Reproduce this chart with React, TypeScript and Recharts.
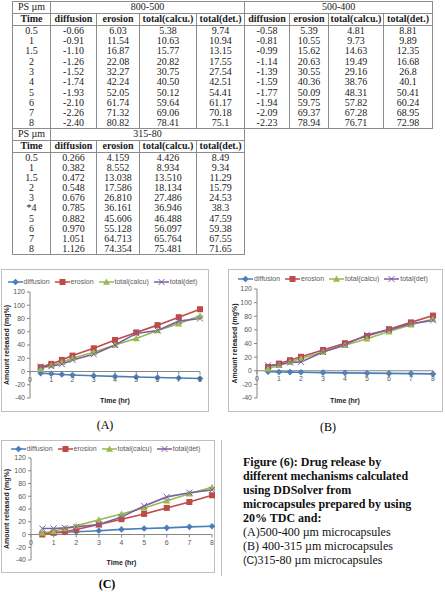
import React from "react";
import { LineChart, Line, XAxis, YAxis, ReferenceLine, Legend, Label } from "recharts";

// ---- table data ----
const headCols = ["Time", "diffusion", "erosion", "total(calcu.)", "total(det.)"];
const timeColA = ["0.5", "1", "1.5", "2", "3", "4", "5", "6", "7", "8"];
const timeColB = ["0.5", "1", "1.5", "2", "3", "*4", "5", "6", "7", "8"];

const diff800 = ["-0.66", "-0.91", "-1.10", "-1.26", "-1.52", "-1.74", "-1.93", "-2.10", "-2.26", "-2.40"];
const eros800 = ["6.03", "11.54", "16.87", "22.08", "32.27", "42.24", "52.05", "61.74", "71.32", "80.82"];
const calc800 = ["5.38", "10.63", "15.77", "20.82", "30.75", "40.50", "50.12", "59.64", "69.06", "78.41"];
const det800 = ["9.74", "10.94", "13.15", "17.55", "27.54", "42.51", "54.41", "61.17", "70.18", "75.1"];

const diff500 = ["-0.58", "-0.81", "-0.99", "-1.14", "-1.39", "-1.59", "-1.77", "-1.94", "-2.09", "-2.23"];
const eros500 = ["5.39", "10.55", "15.62", "20.63", "30.55", "40.36", "50.09", "59.75", "69.37", "78.94"];
const calc500 = ["4.81", "9.73", "14.63", "19.49", "29.16", "38.76", "48.31", "57.82", "67.28", "76.71"];
const det500 = ["8.81", "9.89", "12.35", "16.68", "26.8", "40.1", "50.41", "60.24", "68.95", "72.98"];

const diff315 = ["0.266", "0.382", "0.472", "0.548", "0.676", "0.785", "0.882", "0.970", "1.051", "1.126"];
const eros315 = ["4.159", "8.552", "13.038", "17.586", "26.810", "36.161", "45.606", "55.128", "64.713", "74.354"];
const calc315 = ["4.426", "8.934", "13.510", "18.134", "27.486", "36.946", "46.488", "56.097", "65.764", "75.481"];
const det315 = ["8.49", "9.34", "11.29", "15.79", "24.53", "38.3", "47.59", "59.38", "67.55", "71.65"];

// ---- chart data ----
const timePoints = [0.5, 1, 1.5, 2, 3, 4, 5, 6, 7, 8];
const xTicks = [0, 1, 2, 3, 4, 5, 6, 7, 8];
const yTicks = [-40, -20, 0, 20, 40, 60, 80, 100, 120];

const aDiffusion = [-2.5, -3.5, -4.5, -5.2, -6.5, -7.4, -8.3, -9.1, -9.8, -10.5];
const aErosion = [6.5, 11.5, 17.5, 24, 35, 47.5, 59, 70, 82, 94];
const aCalcu = [4, 9, 14, 20, 29, 40, 50, 62, 72, 84];
const aDet = [7.5, 8, 11, 17.5, 26, 40, 57.5, 62, 76, 80];

const bDiffusion = [-1.5, -1.8, -2, -2.3, -2.7, -3.1, -3.5, -3.9, -4.2, -4.6];
const bErosion = [5.5, 10.5, 15.5, 20.5, 30.5, 40.5, 51, 61, 71, 81];
const bCalcu = [3, 8, 13, 18, 27.5, 37.5, 47, 57.5, 67.5, 76];
const bDet = [8, 9, 12, 13, 27.5, 38, 53, 60, 69, 74];

const cDiffusion = [2, 3, 3.6, 4.2, 6, 8, 9.4, 10.4, 12, 13];
const cErosion = [0, 2.6, 4.7, 7.8, 15.6, 24, 32.3, 41.7, 51, 61.5];
const cCalcu = [2.6, 5.2, 9.4, 13.5, 23, 32.3, 41.7, 53, 64, 74];
const cDet = [9.4, 9.4, 10.4, 12, 15.6, 27.6, 44.8, 59, 65.6, 70];

const series = [
  { key: "diffusion", name: "diffusion", color: "#4A7EBB", shape: "diamond" },
  { key: "erosion", name: "erosion", color: "#BE4B48", shape: "square" },
  { key: "calcu", name: "total(calcu)", color: "#98B954", shape: "triangle" },
  { key: "det", name: "total(det)", color: "#7D5FA0", shape: "x" },
];

const Y_MIN = -40;
const Y_MAX = 120;
const axisColor = "#868686";
const chartFont = "'Liberation Sans', Arial, sans-serif";
const serif = "'Liberation Serif', 'Times New Roman', serif";

function buildRows(d: number[], e: number[], c: number[], x: number[]) {
  return timePoints.map((t, i) => ({ time: t, diffusion: d[i], erosion: e[i], calcu: c[i], det: x[i] }));
}

function Marker({ cx, cy, shape, color }: any) {
  if (cx == null || cy == null) return null;
  if (shape === "diamond")
    return <path d={`M${cx},${cy - 3.3}L${cx + 3.3},${cy}L${cx},${cy + 3.3}L${cx - 3.3},${cy}Z`} fill={color} />;
  if (shape === "square") return <rect x={cx - 3} y={cy - 3} width={6} height={6} fill={color} />;
  if (shape === "triangle")
    return <path d={`M${cx},${cy - 3.5}L${cx + 3.5},${cy + 2.8}L${cx - 3.5},${cy + 2.8}Z`} fill={color} />;
  return (
    <g stroke={color} strokeWidth={1}>
      <line x1={cx - 3} y1={cy - 3} x2={cx + 3} y2={cy + 3} />
      <line x1={cx - 3} y1={cy + 3} x2={cx + 3} y2={cy - 3} />
    </g>
  );
}

function LegendContent() {
  return (
    <div style={{ display: "flex", justifyContent: "center", alignItems: "center", fontSize: 7, color: "#595959", fontFamily: chartFont, lineHeight: "8px" }}>
      {series.map((s) => (
        <span key={s.key} style={{ display: "flex", alignItems: "center", marginRight: 5 }}>
          <svg width={15} height={8} style={{ marginRight: 1 }}>
            <line x1={0} y1={4} x2={15} y2={4} stroke={s.color} strokeWidth={1.5} />
            <Marker cx={7.5} cy={4} shape={s.shape} color={s.color} />
          </svg>
          {s.name}
        </span>
      ))}
    </div>
  );
}

interface PanelProps {
  data: any[];
  left: number;
  top: number;
  width: number;
  height: number;
  mTop: number;
  mRight: number;
  yW: number;
  xH: number;
  legendTop: number;
  titleX: number;
}

function Panel({ data, left, top, width, height, mTop, mRight, yW, xH, legendTop, titleX }: PanelProps) {
  const plotH = height - mTop - xH;
  const zeroY = mTop + (plotH * Y_MAX) / (Y_MAX - Y_MIN);
  const XTick = (props: any) => {
    const { x, payload } = props;
    return (
      <g>
        <line x1={x} x2={x} y1={zeroY} y2={zeroY + 3} stroke={axisColor} />
        <text x={x} y={zeroY + 10} textAnchor="middle" fontSize={7} fill="#595959" fontFamily={chartFont}>
          {payload.value}
        </text>
      </g>
    );
  };
  return (
    <div style={{ position: "absolute", left, top, width, height }}>
      <div style={{ position: "absolute", left: 0, top: 0, width, height, boxSizing: "border-box", border: "1px solid #BFBFBF" }} />
      <LineChart width={width} height={height} data={data} margin={{ top: mTop, right: mRight, left: 0, bottom: 0 }}>
        <XAxis
          dataKey="time"
          type="number"
          domain={[0, 8]}
          ticks={xTicks}
          height={xH}
          axisLine={false}
          tickLine={false}
          tick={XTick}
          interval={0}
        >
          <Label value="Time (hr)" position="insideTop" offset={0} fontSize={7} fontWeight="bold" fill="#222" fontFamily={chartFont} />
        </XAxis>
        <YAxis
          domain={[Y_MIN, Y_MAX]}
          ticks={yTicks}
          width={yW}
          tickSize={3}
          axisLine={{ stroke: axisColor }}
          tickLine={{ stroke: axisColor }}
          tick={{ fontSize: 7, fill: "#595959", fontFamily: chartFont }}
          interval={0}
        >
          <Label
            value="Amount released (mg%)"
            angle={-90}
            position="insideLeft"
            offset={titleX}
            fontSize={7}
            fontWeight="bold"
            fill="#222"
            fontFamily={chartFont}
            style={{ textAnchor: "middle" }}
          />
        </YAxis>
        <ReferenceLine y={0} stroke={axisColor} />
        <Legend
          layout="horizontal"
          verticalAlign="middle"
          align="center"
          content={LegendContent}
          wrapperStyle={{ top: legendTop, left: 0, width }}
        />
        {series.map((s) => (
          <Line
            key={s.key}
            dataKey={s.key}
            name={s.name}
            stroke={s.color}
            strokeWidth={1.6}
            isAnimationActive={false}
            dot={(p: any) => <Marker key={`${s.key}-${p.index}`} cx={p.cx} cy={p.cy} shape={s.shape} color={s.color} />}
            activeDot={false}
          />
        ))}
      </LineChart>
    </div>
  );
}

const border = "1px solid #8C8C8C";
const cellBase: React.CSSProperties = { padding: 0, textAlign: "center", whiteSpace: "nowrap", overflow: "hidden" };

function DataTable({ left, top, widths, groups, timeCol, rowH, headH }: any) {
  const cols: string[][] = groups.flatMap((g: any) => g.cols);
  return (
    <table
      style={{
        position: "absolute",
        left,
        top,
        borderCollapse: "collapse",
        tableLayout: "fixed",
        fontFamily: serif,
        fontSize: 10,
        lineHeight: "10px",
        color: "#1a1a1a",
        width: widths.reduce((a: number, b: number) => a + b, 0),
      }}
    >
      <colgroup>
        {widths.map((w: number, i: number) => (
          <col key={i} style={{ width: w }} />
        ))}
      </colgroup>
      <tbody>
        <tr style={{ height: headH[0] }}>
          <td style={{ ...cellBase, border }}>PS µm</td>
          {groups.map((g: any) => (
            <td key={g.label} colSpan={4} style={{ ...cellBase, border }}>
              {g.label}
            </td>
          ))}
        </tr>
        <tr style={{ height: headH[1], fontWeight: "bold" }}>
          {[headCols[0], ...groups.flatMap(() => headCols.slice(1))].map((h, i) => (
            <td key={i} style={{ ...cellBase, border }}>
              {h}
            </td>
          ))}
        </tr>
        {timeCol.map((t: string, r: number) => (
          <tr key={r} style={{ height: rowH }}>
            <td style={{ ...cellBase, borderLeft: border, borderRight: border, borderBottom: r === timeCol.length - 1 ? border : "none" }}>{t}</td>
            {cols.map((c, i) => (
              <td key={i} style={{ ...cellBase, borderLeft: border, borderRight: border, borderBottom: r === timeCol.length - 1 ? border : "none" }}>
                {c[r]}
              </td>
            ))}
          </tr>
        ))}
      </tbody>
    </table>
  );
}

export default function App() {
  const lineStyle: React.CSSProperties = { fontWeight: "bold" };
  return (
    <div style={{ position: "absolute", left: 0, top: 0, width: 445, height: 592, background: "#fff", overflow: "hidden" }}>
      <DataTable
        left={12}
        top={1}
        widths={[38, 46, 43, 57, 48, 45, 39, 55, 49]}
        groups={[
          { label: "800-500", cols: [diff800, eros800, calc800, det800] },
          { label: "500-400", cols: [diff500, eros500, calc500, det500] },
        ]}
        timeCol={timeColA}
        rowH={10.3}
        headH={[11.5, 12.5]}
      />
      <DataTable
        left={12}
        top={128}
        widths={[38, 46, 43, 57, 48]}
        groups={[{ label: "315-80", cols: [diff315, eros315, calc315, det315] }]}
        timeCol={timeColB}
        rowH={10.2}
        headH={[11.5, 12]}
      />

      <Panel data={buildRows(aDiffusion, aErosion, aCalcu, aDet)} left={1} top={269} width={208} height={143} mTop={23} mRight={9} yW={29} xH={14} legendTop={9} titleX={6} />
      <Panel data={buildRows(bDiffusion, bErosion, bCalcu, bDet)} left={228} top={269} width={215} height={143} mTop={20} mRight={10} yW={29} xH={14} legendTop={6} titleX={7} />
      <Panel data={buildRows(cDiffusion, cErosion, cCalcu, cDet)} left={1} top={440} width={214} height={133} mTop={18} mRight={3} yW={30} xH={13} legendTop={5} titleX={6} />

      <div style={{ position: "absolute", left: 221, top: 440, width: 0, height: 136, borderLeft: "1px solid #BFBFBF" }} />

      <div style={{ position: "absolute", left: 80, top: 418, width: 50, textAlign: "center", fontFamily: serif, fontSize: 12, lineHeight: "14px" }}>(A)</div>
      <div style={{ position: "absolute", left: 303, top: 420, width: 50, textAlign: "center", fontFamily: serif, fontSize: 12, lineHeight: "14px" }}>(B)</div>
      <div style={{ position: "absolute", left: 82, top: 578, width: 50, textAlign: "center", fontFamily: serif, fontSize: 12, lineHeight: "13px", fontWeight: "bold" }}>(C)</div>

      <div style={{ position: "absolute", left: 243, top: 455, fontFamily: serif, fontSize: 12, lineHeight: "14px", color: "#111", whiteSpace: "nowrap" }}>
        <div style={lineStyle}>Figure (6): Drug release by</div>
        <div style={lineStyle}>different mechanisms calculated</div>
        <div style={lineStyle}>using DDSolver from</div>
        <div style={lineStyle}>microcapsules prepared by using</div>
        <div style={lineStyle}>20% TDC and:</div>
        <div>(A)500-400 µm microcapsules</div>
        <div>(B) 400-315 µm microcapsules</div>
        <div>
          <span style={{ fontFamily: chartFont, fontSize: 10.5 }}>(C)</span>315-80 µm microcapsules
        </div>
      </div>
    </div>
  );
}
